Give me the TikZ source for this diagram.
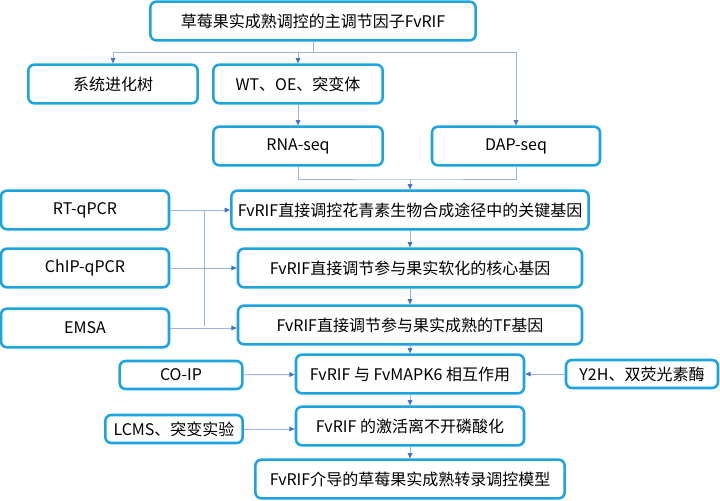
\documentclass[tikz,border=0pt]{standalone}
\usepackage{fontspec}
\setmainfont{Noto Sans CJK SC}
\usepackage{tikz}
\usetikzlibrary{arrows.meta,positioning,calc}
\definecolor{Frame}{HTML}{1CA3E0}
\definecolor{Wire}{HTML}{9DB3E0}
\definecolor{Tip}{HTML}{4472C4}
\tikzset{
 box/.style={draw=Frame,line width=1.9pt,rounded corners=4.5pt,fill=white,align=center,
   font=\fontsize{12}{14}\selectfont,minimum height=29pt,inner sep=2pt},
 wide/.style={box,minimum width=#1},
 wire/.style={draw=Wire,line width=0.7pt},
 arr/.style={wire,-{Triangle[length=4pt,width=3.5pt,fill=Tip,color=Tip]}}
}
\begin{document}
\begin{tikzpicture}[x=0.75pt,y=-0.75pt]
\useasboundingbox (0,0) rectangle (720,500);
% main chain
\node[wide=244pt] (top) at (313,21) {草莓果实成熟调控的主调节因子FvRIF};
\node[wide=127pt] (tree) at (113,84) {系统进化树};
\node[wide=127pt] (wt) at (298,84) {WT、OE、突变体};
\node[wide=127pt] (rna) at (298,146) {RNA-seq};
\node[wide=126pt] (dap) at (516,146) {DAP-seq};
\node[wide=268pt] (g1) at (410,210) {FvRIF直接调控花青素生物合成途径中的关键基因};
\node[wide=258pt] (g2) at (410,268) {FvRIF直接调节参与果实软化的核心基因};
\node[wide=258pt] (g3) at (410,325) {FvRIF直接调节参与果实成熟的TF基因};
\node[wide=171pt] (g4) at (410,374) {FvRIF 与 FvMAPK6 相互作用};
\node[wide=171pt] (g5) at (410,426) {FvRIF 的激活离不开磷酸化};
\node[wide=232pt] (g6) at (410,479) {FvRIF介导的草莓果实成熟转录调控模型};
% methods
\node[wide=126pt] (rt) at (85,210) {RT-qPCR};
\node[wide=126pt] (chip) at (85,268) {ChIP-qPCR};
\node[wide=126pt] (emsa) at (85,328) {EMSA};
\node[wide=92pt,minimum height=21pt] (coip) at (181,375) {CO-IP};
\node[wide=114pt,minimum height=21pt] (y2h) at (642,374) {Y2H、双荧光素酶};
\node[wide=103pt,minimum height=21pt] (lcms) at (174,429) {LCMS、突变实验};
% connectors
\coordinate (br) at (313,52);
\coordinate (jn) at (410,179);
\coordinate (bt) at (204,210);
\coordinate (bb) at (204,326);
\draw[wire] (top) -- (br);
\draw[arr] (br) -| (tree);
\draw[arr] (br) -| (wt);
\draw[arr] (br) -| (dap);
\draw[arr] (wt) -- (rna);
\draw[wire] (rna) |- (jn) -| (dap);
\draw[arr] (jn) -- (g1);
\draw[arr] (rt) -- (g1);
\draw[arr] (chip) -- (g2);
\draw[arr] (emsa.east) -- (emsa.east -| g3.west);
\draw[wire] (bt) -- (bb);
\draw[arr] (g1) -- (g2);
\draw[arr] (g2) -- (g3);
\draw[arr] (g3) -- (g4);
\draw[arr] (g4) -- (g5);
\draw[arr] (g5) -- (g6);
\draw[arr] (coip) -- (g4);
\draw[arr] (y2h) -- (g4);
\draw[arr] (lcms.east) -- (lcms.east -| g5.west);
\end{tikzpicture}
\end{document}
